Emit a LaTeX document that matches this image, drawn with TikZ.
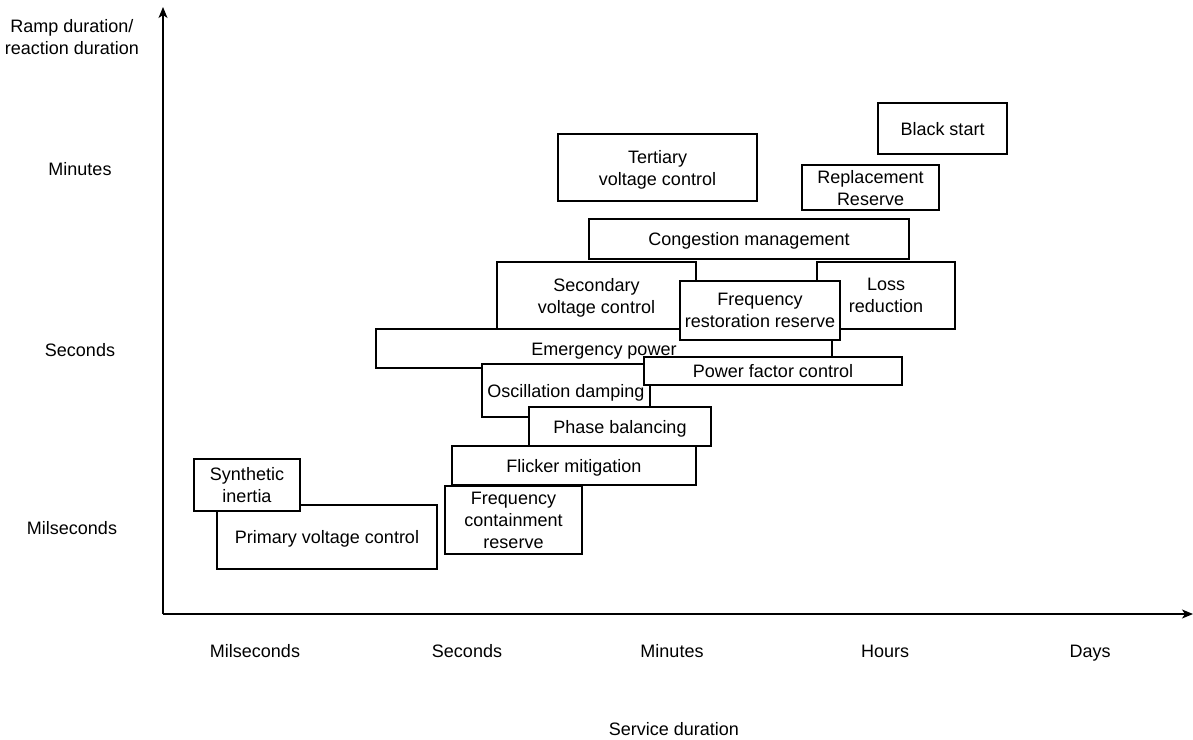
\documentclass[tikz,border=0pt]{standalone}
\usepackage{fontspec}
\setmainfont{Liberation Sans}
\usetikzlibrary{arrows.meta}
\begin{document}
\begin{tikzpicture}[x=1pt,y=-1pt,
  every node/.style={font=\fontsize{18}{22}\selectfont, align=center, inner sep=0pt,
    text depth=0pt, execute at begin node=\rule{0pt}{13pt}},
  svc/.style={draw=black, fill=white, line width=1.2pt, minimum width=#1},
  axis/.style={line width=1.3pt, -{Stealth[length=11pt,width=9pt,inset=3pt]}},
  lbl/.style={text=black}]
\useasboundingbox (0,0) rectangle (1193,739);

% axes
\coordinate (origin) at (163,614);
\coordinate (ytip) at (163,7);
\coordinate (xtip) at (1193,614);
\draw[axis] (origin) -- (ytip);
\draw[axis] (origin) -- (xtip);

% axis captions
\node[lbl] (yttl) at (72,36.5) {Ramp duration/\\reaction duration};
\node[lbl] (ymin) at (80,169) {Minutes};
\node[lbl] (ysec) at (80,350) {Seconds};
\node[lbl] (yms)  at (72,528) {Milseconds};
\node[lbl] (xms)  at (255,651) {Milseconds};
\node[lbl] (xsec) at (467,651) {Seconds};
\node[lbl] (xmin) at (672,651) {Minutes};
\node[lbl] (xhr)  at (885,651) {Hours};
\node[lbl] (xday) at (1090,651) {Days};
\node[lbl] (xttl) at (674,729) {Service duration};

% services (drawn back to front)
\node[svc=456, minimum height=39] (emerg) at (604,348.5) {Emergency power};
\node[svc=199, minimum height=67] (second) at (596.5,295.5) {Secondary\\voltage control};
\node[svc=138, minimum height=67] (loss) at (886,295.5) {Loss\\reduction};
\node[svc=160, minimum height=59] (frr) at (760,310.5) {Frequency\\restoration reserve};
\node[svc=168, minimum height=53] (osc) at (566,390.5) {Oscillation damping};
\node[svc=258, minimum height=28] (pf) at (773,371) {Power factor control};
\node[svc=182, minimum height=39] (phase) at (620,426.5) {Phase balancing};
\node[svc=244, minimum height=39] (flicker) at (574,465.5) {Flicker mitigation};
\node[svc=137, minimum height=68] (fcr) at (513.5,520) {Frequency\\containment\\reserve};
\node[svc=220, minimum height=64] (primary) at (327,537) {Primary voltage control};
\node[svc=106, minimum height=52] (synth) at (247,485) {Synthetic\\inertia};
\node[svc=320, minimum height=40] (cong) at (749,239) {Congestion management};
\node[svc=199, minimum height=67] (tert) at (657.5,167.5) {Tertiary\\voltage control};
\node[svc=137, minimum height=45] (repl) at (870.5,187.5) {Replacement\\Reserve};
\node[svc=129, minimum height=51] (black) at (942.5,128.5) {Black start};
\end{tikzpicture}
\end{document}
